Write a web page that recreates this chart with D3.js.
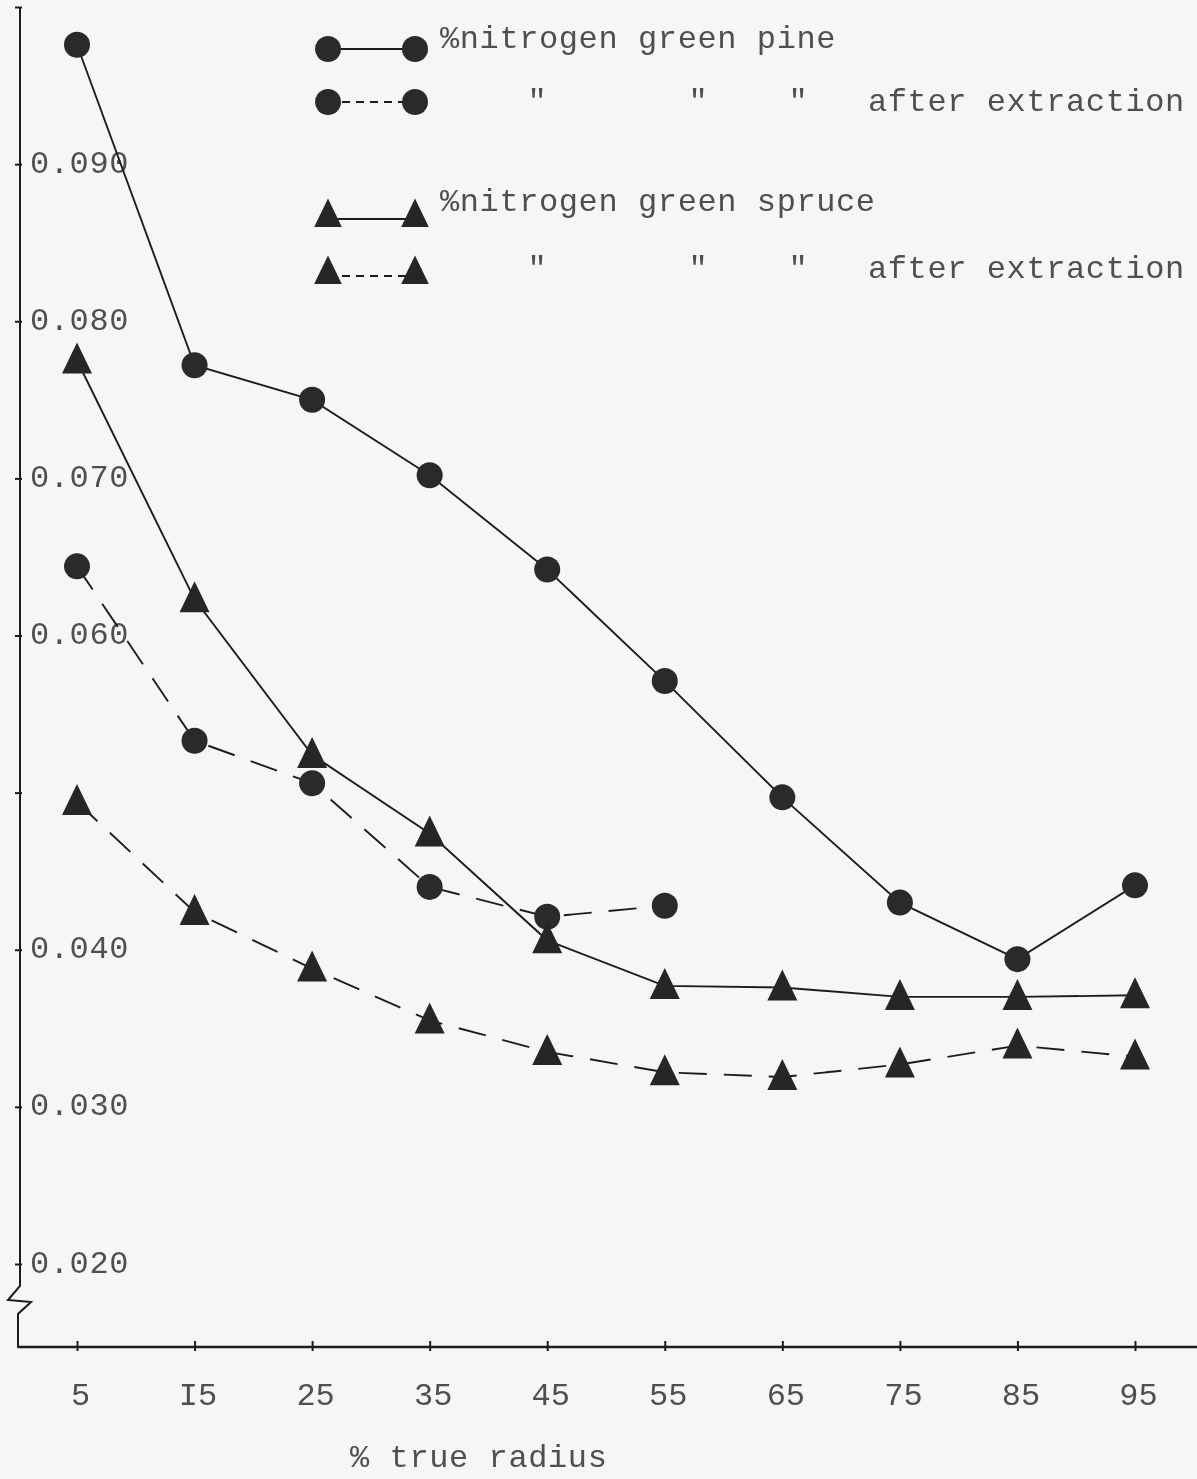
<!DOCTYPE html>
<html>
<head>
<meta charset="utf-8">
<script src="https://cdn.jsdelivr.net/npm/d3@7"></script>
<style>
  html, body { margin: 0; padding: 0; background: #f6f6f4; }
  svg { display: block; }
  text { font-family: "Liberation Mono", "Courier New", monospace; }
</style>
</head>
<body>
<svg id="chart" width="1197" height="1479"></svg>
<script>
// Position along the radius (% of true radius) and the nitrogen contents (%)
const radius = [5, 15, 25, 35, 45, 55, 65, 75, 85, 95];
const radiusLabels = ["5", "I5", "25", "35", "45", "55", "65", "75", "85", "95"];

const pineGreen       = [0.0976, 0.0772, 0.0750, 0.0702, 0.0642, 0.0571, 0.0497, 0.0430, 0.0394, 0.0441];
const pineExtracted   = [0.0644, 0.0533, 0.0506, 0.0440, 0.0421, 0.0428];
const spruceGreen     = [0.0775, 0.0623, 0.0524, 0.0474, 0.0406, 0.0377, 0.0376, 0.0370, 0.0370, 0.0371];
const spruceExtracted = [0.0494, 0.0424, 0.0388, 0.0355, 0.0335, 0.0322, 0.0319, 0.0327, 0.0339, 0.0332];

const nitrogenTicks      = [0.02, 0.03, 0.04, 0.05, 0.06, 0.07, 0.08, 0.09, 0.10];
const nitrogenTickLabels = ["0.020", "0.030", "0.040", "", "0.060", "0.070", "0.080", "0.090", ""];

const legendTitles = ["%nitrogen green pine", "after extraction", "%nitrogen green spruce", "after extraction"];
const axisTitle = "% true radius";

// ---- layout ----
const W = 1197, H = 1479;
const axisX = 20, baseY = 1347;
const ink = "#1f1f1f", typeInk = "#505050";

const svg = d3.select("#chart");
const defs = svg.append("defs");
defs.append("filter").attr("id", "soft")
  .append("feGaussianBlur").attr("stdDeviation", 0.45);

const g = svg.append("g").attr("filter", "url(#soft)");

const x = d3.scaleLinear().domain([5, 95]).range([77, 1135]);
const y = d3.scaleLinear().domain([0.02, 0.10]).range([1264, 7]);

// ---- axes ----
// y axis with a break just above the horizontal axis
const yTop = y(0.10);
g.append("path")
  .attr("d", `M${axisX},${yTop} V1286 L8,1300 L31,1302 L18,1314 V${baseY} H${W}`)
  .attr("fill", "none").attr("stroke", ink).attr("stroke-width", 2)
  .attr("stroke-linejoin", "miter");
g.append("line")
  .attr("x1", axisX - 2).attr("x2", W).attr("y1", baseY).attr("y2", baseY)
  .attr("stroke", ink).attr("stroke-width", 2.6);

const yAxis = d3.axisRight(y)
  .tickValues(nitrogenTicks)
  .tickSize(0)
  .tickPadding(10)
  .tickFormat((d, i) => nitrogenTickLabels[i]);
const yg = g.append("g").attr("transform", `translate(${axisX},0)`).call(yAxis);
yg.select(".domain").remove();
yg.selectAll(".tick line")
  .attr("x1", -5).attr("x2", 2)
  .attr("stroke", ink).attr("stroke-width", 2);
yg.selectAll(".tick text")
  .attr("fill", typeInk)
  .attr("font-size", 32)
  .attr("letter-spacing", 0.6)
  .attr("dy", 8)
  .style("font-family", "'Liberation Mono', 'Courier New', monospace");

const xAxis = d3.axisBottom(x)
  .tickValues(radius)
  .tickSize(0)
  .tickPadding(0)
  .tickFormat((d, i) => radiusLabels[i]);
const xg = g.append("g").attr("transform", `translate(0,${baseY})`).call(xAxis);
xg.select(".domain").remove();
xg.selectAll(".tick line")
  .attr("y1", -6).attr("y2", 4)
  .attr("stroke", ink).attr("stroke-width", 2);
xg.selectAll(".tick text")
  .attr("fill", typeInk)
  .attr("font-size", 32)
  .attr("y", 58).attr("dy", 0)
  .attr("dx", 3)
  .style("font-family", "'Liberation Mono', 'Courier New', monospace");

g.append("text")
  .attr("x", 350).attr("y", 1467)
  .attr("fill", typeInk).attr("font-size", 32).attr("letter-spacing", 0.6)
  .text(axisTitle);

// ---- series ----
const circleR = 13;
function triPath(s) {
  // inked triangle, a little taller than wide
  return `M0,${-18 * s} L${15 * s},${13 * s} L${-15 * s},${13 * s} Z`;
}

const series = [
  { values: pineGreen,       dashed: false, marker: "circle" },
  { values: pineExtracted,   dashed: true,  marker: "circle" },
  { values: spruceGreen,     dashed: false, marker: "triangle" },
  { values: spruceExtracted, dashed: true,  marker: "triangle" }
];

const line = d3.line()
  .x(d => x(d.r))
  .y(d => y(d.v));

series.forEach(s => {
  const pts = s.values.map((v, i) => ({ r: radius[i], v }));
  g.append("path")
    .datum(pts)
    .attr("d", line)
    .attr("fill", "none")
    .attr("stroke", ink)
    .attr("stroke-width", 1.9)
    .attr("stroke-dasharray", s.dashed ? "28,17" : null);
  const m = g.append("g").selectAll("g").data(pts).join("g")
    .attr("transform", d => `translate(${x(d.r)},${y(d.v)})`);
  if (s.marker === "circle") {
    m.append("circle").attr("r", circleR).attr("fill", "#2a2a2a");
  } else {
    m.append("path").attr("d", triPath(1)).attr("fill", "#262626");
  }
});

// ---- legend ----
const legendX0 = 328, legendX1 = 415, legendTextX = 440;
const legendMarkerY = [49, 102, 215, 272];
const legendTextY = [48, 111, 211, 278];
const legendSpec = [
  { marker: "circle",   dashed: false, title: legendTitles[0], ditto: false },
  { marker: "circle",   dashed: true,  title: legendTitles[1], ditto: true },
  { marker: "triangle", dashed: false, title: legendTitles[2], ditto: false },
  { marker: "triangle", dashed: true,  title: legendTitles[3], ditto: true }
];
const dittoX = [537, 698, 798];

legendSpec.forEach((e, i) => {
  const my = legendMarkerY[i], ty = legendTextY[i];
  const ly = e.marker === "triangle" ? my + 4 : my;
  g.append("line")
    .attr("x1", legendX0).attr("x2", legendX1).attr("y1", ly).attr("y2", ly)
    .attr("stroke", ink).attr("stroke-width", 2.2)
    .attr("stroke-dasharray", e.dashed ? "8,6" : null);
  [legendX0, legendX1].forEach(cx => {
    if (e.marker === "circle") {
      g.append("circle").attr("cx", cx).attr("cy", my).attr("r", 13).attr("fill", "#2a2a2a");
    } else {
      g.append("path").attr("transform", `translate(${cx},${my})`).attr("d", triPath(0.92)).attr("fill", "#262626");
    }
  });
  if (e.ditto) {
    dittoX.forEach(dx => {
      g.append("text").attr("x", dx).attr("y", ty)
        .attr("text-anchor", "middle")
        .attr("fill", typeInk).attr("font-size", 32).text("\"");
    });
    g.append("text").attr("x", 868).attr("y", ty)
      .attr("fill", typeInk).attr("font-size", 32).attr("letter-spacing", 0.6)
      .text(e.title);
  } else {
    g.append("text").attr("x", legendTextX).attr("y", ty)
      .attr("fill", typeInk).attr("font-size", 32).attr("letter-spacing", 0.6)
      .text(e.title);
  }
});
</script>
</body>
</html>
